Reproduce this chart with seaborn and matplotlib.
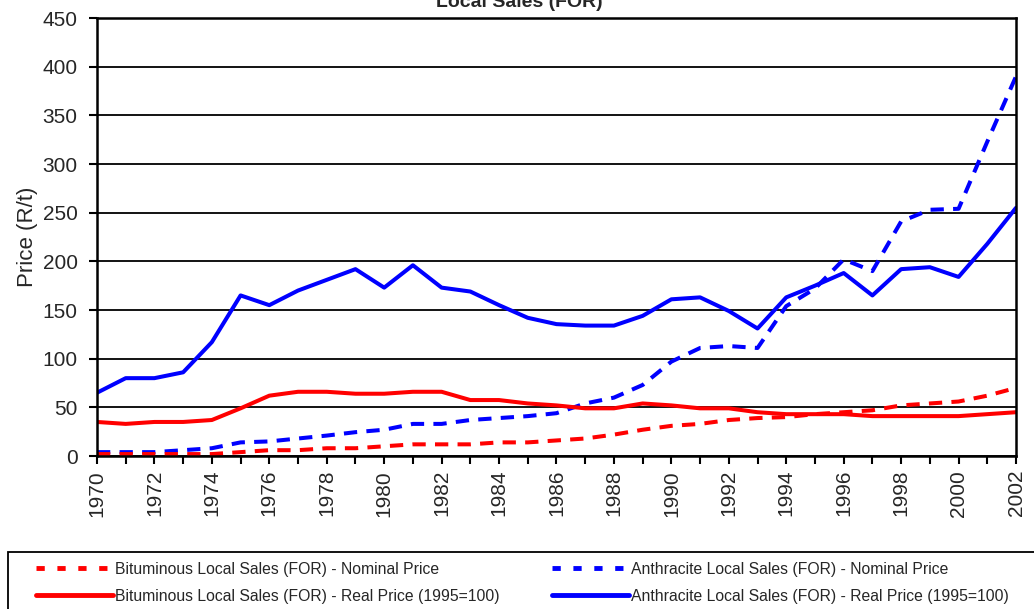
import numpy as np
import pandas as pd
import matplotlib
matplotlib.use("Agg")
import matplotlib.pyplot as plt
from matplotlib.lines import Line2D
from matplotlib.patches import Rectangle
import seaborn as sns

sns.set_theme(style="white")
plt.rcParams['font.family'] = ['Liberation Sans', 'DejaVu Sans']

years = list(range(1970, 2003))

bit_nominal = [2, 2, 2, 2, 2, 4, 6, 6, 8, 8, 10, 12, 12, 12, 14, 14, 16, 18, 22, 27,
               31, 33, 37, 39, 40, 43, 45, 47, 52, 54, 56, 62, 70]
bit_real = [35, 33, 35, 35, 37, 49, 62, 66, 66, 64, 64, 66, 66, 57.5, 57.5, 54, 52, 49, 49, 54,
            52, 49, 49, 45, 43, 43, 43, 41, 41, 41, 41, 43, 45]
ant_nominal = [4, 4, 4, 6, 8, 14, 15, 18, 21, 24.5, 27, 33, 33, 37, 39, 41, 44, 54, 60, 73,
               97, 111, 113, 111, 154, 172, 202, 190, 241, 253, 254, 323, 390]
ant_real = [65, 80, 80, 86, 117, 165, 155, 170, 181, 192, 173, 196, 173, 169, 155, 142, 135.5, 134, 134, 144,
            161, 163, 149, 131, 163, 175, 188, 165, 192, 194, 184, 218, 255]

labels = [
    "Bituminous Local Sales (FOR) - Nominal Price",
    "Bituminous Local Sales (FOR) - Real Price (1995=100)",
    "Anthracite Local Sales (FOR) - Nominal Price",
    "Anthracite Local Sales (FOR) - Real Price (1995=100)",
]
series = [bit_nominal, bit_real, ant_nominal, ant_real]
colors = {labels[0]: "#FF0000", labels[1]: "#FF0000", labels[2]: "#0000FF", labels[3]: "#0000FF"}
dash_map = {labels[0]: (3.3, 2.3), labels[1]: "", labels[2]: (3.3, 2.3), labels[3]: ""}

df = pd.DataFrame({
    "Year": years * 4,
    "Price": sum(series, []),
    "Series": sum([[name] * len(years) for name in labels], []),
})

fig = plt.figure(figsize=(10.34, 6.09), dpi=100)
ax = fig.add_axes([0.0938, 0.2512, 0.9826 - 0.0938, 0.9704 - 0.2512])

sns.lineplot(data=df, x="Year", y="Price", hue="Series", style="Series",
             palette=colors, dashes=dash_map, linewidth=2.9, legend=False, ax=ax,
             hue_order=[labels[2], labels[0], labels[3], labels[1]])

ax.set_xlim(1970, 2002)
ax.set_ylim(0, 450)
ax.set_yticks(np.arange(0, 451, 50))
ax.set_xticks(years)
ax.set_xticklabels([str(y) if y % 2 == 0 else "" for y in years], rotation=90, fontsize=15)
ax.tick_params(axis='y', labelsize=15, pad=8)
ax.tick_params(axis='x', pad=4)
ax.tick_params(axis='both', direction='out', length=6, width=1.5, color='black', left=True, bottom=True)
ax.yaxis.grid(True, color='black', linewidth=1.3)
ax.xaxis.grid(False)
ax.set_axisbelow(True)
for side in ['left', 'bottom', 'right', 'top']:
    ax.spines[side].set_color('black')
    ax.spines[side].set_linewidth(1.8)
ax.set_xlabel("")
ax.set_ylabel("Price (R/t)", fontsize=16, labelpad=3)

fig.text(0.502, 1 - 7 / 609, "Local Sales (FOR)", ha='center', va='baseline',
         fontsize=14, fontweight='bold')

# legend frame runs past the figure edge, as in the source
fig.patches.append(Rectangle((8 / 1034, -10 / 609), 1.05, (609 - 552 + 10) / 609,
                             transform=fig.transFigure, fill=False, edgecolor='black',
                             linewidth=1.3, clip_on=False))

def handle(color, dashed):
    if dashed:
        return Line2D([], [], color=color, linewidth=3.5, linestyle=(0, (1.7, 2.6)))
    return Line2D([], [], color=color, linewidth=3.5)

leg_kw = dict(loc='upper left', frameon=False, fontsize=11.3, handlelength=4.9,
              handletextpad=0.12, labelspacing=0.75, borderpad=0.2)
fig.legend([handle("#FF0000", True), handle("#FF0000", False)], labels[:2],
           bbox_to_anchor=(25 / 1034, 1 - 551 / 609), **leg_kw)
fig.legend([handle("#0000FF", True), handle("#0000FF", False)], labels[2:],
           bbox_to_anchor=(541 / 1034, 1 - 551 / 609), **leg_kw)

fig.savefig("out.png", dpi=100, facecolor='white')
